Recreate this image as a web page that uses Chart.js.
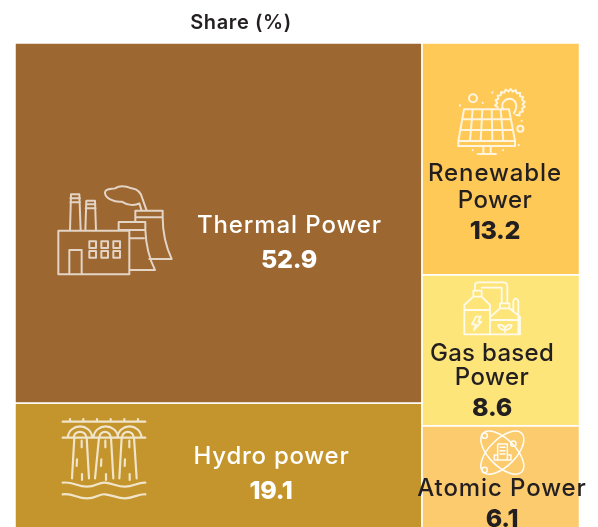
<!DOCTYPE html>
<html>
<head>
<meta charset="utf-8">
<title>Share (%)</title>
<script src="https://cdn.jsdelivr.net/npm/chart.js@4"></script>
<style>
html, body { margin: 0; padding: 0; background: #fff; overflow: hidden; width: 598px; height: 527px; }
canvas { display: block; }
</style>
</head>
<body>
<canvas id="shareChart" width="598" height="540"></canvas>
<script>
// Data
const sources = ['Thermal Power', 'Hydro power', 'Renewable Power', 'Gas based Power', 'Atomic Power'];
const shares = [52.9, 19.1, 13.2, 8.6, 6.1];
const cellColors = ['#9c6731', '#c4952c', '#ffc957', '#fee57a', '#fbcb6e'];
const leftColumn = [0, 1];
const rightColumn = [2, 3, 4];

const DARK = '#231f20';
const WHITE = '#ffffff';
const FONT = 'Inter, sans-serif';

// Toothed ring round the sun in the solar icon
function gearPath(cx, cy, rOut, rIn, teeth, fromDeg, toDeg) {
    let d = '';
    for (let k = 0; k <= teeth * 2; k++) {
        const a = (fromDeg + (toDeg - fromDeg) * k / (teeth * 2)) * Math.PI / 180;
        const r = k % 2 ? rOut : rIn;
        d += (k ? 'L' : 'M') + (cx + r * Math.cos(a)).toFixed(1) + ' ' + (cy + r * Math.sin(a)).toFixed(1);
    }
    return d;
}

// Line icons, path coordinates are 3x the pixel size
const iconPaths = {
    factory: 'M55 182H268V313H55ZM88 313V240H125V313M90 182L93 73H118L122 182M91 85H120M91 97H120M136 182L139 92H165L168 182M138 103H166M137 115H167' +
        'M148 214H168V234H148ZM184 214H204V234H184ZM220 214H240V234H220ZM148 243H168V263H148ZM184 243H204V263H184ZM220 243H240V263H220Z' +
        'M268 180H236V156H316V180H268M268 205H312M316 180C318 230 330 270 345 300H268M286 156V122H368V142H286M368 142C368 190 380 235 395 267H328' +
        'M305 122L298 100C285 108 262 106 245 95C225 98 195 85 195 68C195 55 215 58 225 55C240 45 262 50 275 55C295 58 305 72 308 88L320 122',
    hydro: 'M68 65H316M90 65V57M130 65V57M171 65V57M212 65V57M253 65V57M294 65V57M68 113H316' +
        'M83 113C88 68 152 68 157 113M100 113C105 90 135 90 140 113M160 113C165 68 229 68 235 113M177 113C182 90 208 90 213 113M232 113C237 68 300 68 305 113M245 113C250 90 277 90 282 113' +
        'M103 113L96 235M140 113L147 235M177 113L165 235M213 113L220 235M245 113L238 235M282 113L290 235' +
        'M125 122V142M111 178L110 198M126 222V240M196 122V142M184 178L183 198M198 222V240M268 122V142M255 178L254 198M269 222V240' +
        'M68 248C100 244 110 260 140 260C170 260 175 246 195 248C220 250 230 260 255 260C280 260 295 246 316 248' +
        'M68 283C100 279 110 295 140 295C170 295 175 281 195 283C220 285 230 295 255 295C280 295 295 281 316 283',
    solar: 'M72 88H207L225 183H55ZM55 183V198H225V183M62 150H219M67 118H213M98 88L90 183M127 88L122 183M155 88L157 183M182 88L190 183' +
        'M130 198V222M152 198V222M113 222H168M190 88C180 72 195 55 210 56C228 58 235 78 222 100' +
        gearPath(210, 72, 45, 38, 13, 165, 420) +
        'M111 55A12 12 0 1 1 87 55A12 12 0 1 1 111 55M250 146A9 9 0 1 1 232 146A9 9 0 1 1 250 146' +
        'M60 76V77M128 68V69M157 37V38M245 122V123M236 195V196M189 210V211M98 210V211',
    gas: 'M43 178V90L70 65H95L120 90V178H43M43 105H120M70 65V47H95V65M75 47V30Q75 22 85 22H160Q172 22 172 34V85M95 38H155V85M150 100V85H178V100' +
        'M122 125L150 100H178L210 125V178H122M122 135H210M190 110V78Q197 62 205 78V178' +
        'M78 125H92L84 140H94L72 165L78 148H66ZM165 172V155M165 165C150 165 145 155 145 150C155 148 165 152 165 165C180 165 185 155 185 150C175 148 165 152 165 165',
    atomic: 'M263 120V72H292V120M253 120V105H263M292 105H303V120H253M270 82H285M270 92H285M270 102H285' +
        'M232 47A8 8 0 1 1 216 47A8 8 0 1 1 232 47M318 71A8 8 0 1 1 302 71A8 8 0 1 1 318 71M232 150A8 8 0 1 1 216 150A8 8 0 1 1 232 150'
};
const iconPlacement = [
    { path: 'factory', x: 40, y: 170, color: 'rgba(255,255,255,0.72)', w: 6 },
    { path: 'hydro', x: 40, y: 400, color: 'rgba(255,255,255,0.75)', w: 6.5 },
    { path: 'solar', x: 440, y: 80, color: 'rgba(255,255,255,0.8)', w: 6 },
    { path: 'gas', x: 450, y: 275, color: 'rgba(255,255,255,0.85)', w: 5.5 },
    { path: 'atomic', x: 410, y: 420, color: 'rgba(255,255,255,0.95)', w: 4.5 }
];

// Slice-and-dice layout: two columns, each stacked by share
function sum(list) {
    return list.reduce((a, i) => a + shares[i], 0);
}

function layoutCells() {
    const total = shares.reduce((a, b) => a + b, 0);
    const cells = [];
    let x0 = 0;
    [leftColumn, rightColumn].forEach(col => {
        const colSum = sum(col);
        const x1 = x0 + colSum;
        let top = total;
        col.forEach(i => {
            const bottom = top - shares[i] / colSum * total;
            cells[i] = { x0: x0, x1: x1, y0: bottom, y1: top };
            top = bottom;
        });
        x0 = x1;
    });
    return { cells, total };
}

const { cells, total } = layoutCells();

const datasets = cells.map((c, i) => ({
    label: sources[i],
    data: [
        { x: c.x0, y: c.y1 }, { x: c.x1, y: c.y1 },
        { x: c.x1, y: c.y0 }, { x: c.x0, y: c.y0 }, { x: c.x0, y: c.y1 }
    ],
    showLine: true,
    fill: 'shape',
    backgroundColor: cellColors[i],
    borderColor: '#ffffff',
    borderWidth: 1.5,
    pointRadius: 0,
    tension: 0,
    clip: false
}));

// Text lines per cell: text, x, y, size, weight, letter spacing, colour
const labelLines = [
    ['Thermal Power', 289.5, 226, 24, 500, 0.9, WHITE],
    ['52.9', 289, 260, 25, 800, -0.3, WHITE],
    ['Hydro power', 271.5, 457, 24, 500, 0.75, WHITE],
    ['19.1', 271, 491, 25, 800, -0.3, WHITE],
    ['Renewable', 495, 174, 24, 500, 0.9, DARK],
    ['Power', 495, 201, 24, 500, 0.5, DARK],
    ['13.2', 495, 231, 25, 800, -0.3, DARK],
    ['Gas based', 492, 354, 24, 500, 0.3, DARK],
    ['Power', 492, 378, 24, 500, 0.5, DARK],
    ['8.6', 492, 408, 25, 800, -0.3, DARK],
    ['Atomic Power', 502, 489, 24, 500, 0.9, DARK],
    ['6.1', 502, 519, 25, 800, -0.3, DARK],
    ['Share (%)', 241, 23, 20, 600, 0.6, DARK]
];

const treemapDecor = {
    id: 'treemapDecor',
    afterDatasetsDraw(chart) {
        const ctx = chart.ctx;
        ctx.save();
        iconPlacement.forEach(ic => {
            ctx.save();
            ctx.translate(ic.x, ic.y);
            ctx.scale(1 / 3, 1 / 3);
            ctx.strokeStyle = ic.color;
            ctx.lineWidth = ic.w;
            ctx.lineJoin = 'round';
            ctx.lineCap = 'round';
            ctx.stroke(new Path2D(iconPaths[ic.path]));
            if (ic.path === 'atomic') {
                [Math.PI / 4, -Math.PI / 4].forEach(a => {
                    ctx.beginPath();
                    ctx.ellipse(277, 98, 82, 40, a, 0, Math.PI * 2);
                    ctx.stroke();
                });
            }
            ctx.restore();
        });
        ctx.textAlign = 'center';
        ctx.textBaseline = 'middle';
        labelLines.forEach(([text, x, y, size, weight, spacing, color]) => {
            ctx.fillStyle = color;
            ctx.font = weight + ' ' + size + 'px ' + FONT;
            ctx.letterSpacing = spacing + 'px';
            ctx.fillText(text, x, y);
        });
        ctx.restore();
    }
};

new Chart(document.getElementById('shareChart'), {
    type: 'scatter',
    data: { datasets: datasets },
    options: {
        responsive: false,
        animation: false,
        layout: { padding: { left: 15, right: 18.5, top: 43, bottom: 7 } },
        scales: {
            x: { type: 'linear', min: 0, max: total, display: false },
            y: { type: 'linear', min: 0, max: total, display: false }
        },
        plugins: {
            legend: { display: false },
            title: { display: false },
            tooltip: { enabled: false }
        }
    },
    plugins: [treemapDecor]
});
</script>
</body>
</html>
